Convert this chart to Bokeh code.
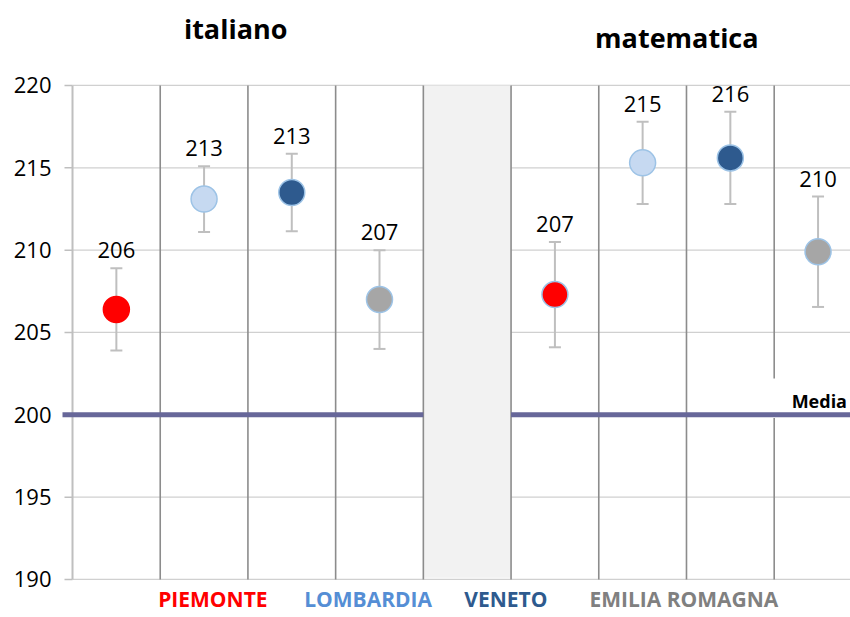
from bokeh.plotting import figure
from bokeh.models import Label, ColumnDataSource
from bokeh.embed import file_html
from bokeh.resources import INLINE

regions = ["PIEMONTE", "LOMBARDIA", "VENETO", "EMILIA ROMAGNA"]
region_colors = ["#ff0000", "#c6d9f1", "#2e5a8e", "#a6a6a6"]
region_text_colors = ["#ff0000", "#558ed5", "#2e5a8e", "#808080"]
outline_ita = ["#ff0000", "#9dc3e6", "#9dc3e6", "#9dc3e6"]
outline_mat = ["#9dc3e6", "#9dc3e6", "#9dc3e6", "#9dc3e6"]
subjects = ["italiano", "matematica"]
ita_mean = [206.4, 213.1, 213.5, 207.0]
ita_err = [2.5, 2.0, 2.35, 3.0]
mat_mean = [207.3, 215.3, 215.6, 209.9]
mat_err = [3.2, 2.5, 2.8, 3.35]
ita_labels = ["206", "213", "213", "207"]
mat_labels = ["207", "215", "216", "210"]
media_value = 200
y_ticks = [190, 195, 200, 205, 210, 215, 220]
y_tick_labels = ["190", "195", "200", "205", "210", "215", "220"]

FONT = "Open Sans"
Y0, Y1 = 190, 220
PX = 1 / 87.7  # one pixel in x data units

p = figure(width=850, height=617, x_range=(-72 * PX, 8.87), y_range=(187.69, 225.16),
           output_backend="svg", toolbar_location=None,
           min_border_left=0, min_border_right=0, min_border_top=0, min_border_bottom=0)
p.outline_line_color = None
p.axis.visible = False
p.grid.visible = False

# horizontal gridlines, y axis line and tick marks
p.segment(x0=[0] * len(y_ticks), x1=[9] * len(y_ticks), y0=y_ticks, y1=y_ticks,
          line_color="#d0d0d0", line_width=1.2)
p.segment(x0=[0], x1=[0], y0=[Y0], y1=[Y1], line_color="#bfbfbf", line_width=2)
p.segment(x0=[-8 * PX] * len(y_ticks), x1=[0] * len(y_ticks), y0=y_ticks, y1=y_ticks,
          line_color="#bfbfbf", line_width=1.5)
tsrc = ColumnDataSource(dict(x=[-21 * PX] * len(y_ticks), y=y_ticks, t=y_tick_labels))
p.text(x="x", y="y", text="t", source=tsrc, text_align="right", text_baseline="middle",
       text_font_size="22px", text_color="#000000", text_font={"value": FONT})

# grey gap band between subjects
p.quad(left=[4], right=[5], bottom=[Y0 + 0.1], top=[Y1], fill_color="#f2f2f2", line_color=None)

# slot separators
sep_x = [1, 2, 3, 4, 5, 6, 7]
p.segment(x0=sep_x, x1=sep_x, y0=[Y0] * len(sep_x), y1=[Y1] * len(sep_x),
          line_color="#8c8c8c", line_width=1.6)
p.segment(x0=[8, 8], x1=[8, 8], y0=[Y0, 202.2], y1=[199.8, Y1],
          line_color="#8c8c8c", line_width=1.6)

# media line
p.segment(x0=[-10 * PX, 5], x1=[4, 9], y0=[media_value, media_value], y1=[media_value, media_value],
          line_color="#676799", line_width=5)
p.add_layout(Label(x=8.83, y=media_value, text="Media", text_align="right", text_baseline="bottom",
                   y_offset=2, text_font=FONT, text_font_style="bold", text_font_size="18px",
                   text_color="#000000"))

def draw(xs, means, errs, labels, outlines):
    up = [m + e for m, e in zip(means, errs)]
    lo = [m - e for m, e in zip(means, errs)]
    p.segment(x0=xs, x1=xs, y0=lo, y1=up, line_color="#bfbfbf", line_width=2)
    p.scatter(x=xs + xs, y=up + lo, marker="dash", size=12, line_color="#bfbfbf", line_width=2)
    p.scatter(x=xs, y=means, size=26, fill_color=region_colors, line_color=outlines, line_width=1.5)
    src = ColumnDataSource(dict(x=xs, y=up, t=labels))
    p.text(x="x", y="y", text="t", source=src, text_align="center", text_baseline="bottom",
           y_offset=-10, text_font_size="22px", text_color="#000000",
           text_font={"value": FONT})

ita_x = [i + 0.5 for i in range(len(regions))]
mat_x = [i + 5.5 for i in range(len(regions))]
draw(ita_x, ita_mean, ita_err, ita_labels, outline_ita)
draw(mat_x, mat_mean, mat_err, mat_labels, outline_mat)

# subject titles
p.add_layout(Label(x=1.86, y=223.46, text=subjects[0], text_align="center", text_baseline="middle",
                   text_font=FONT, text_font_style="bold", text_font_size="27px", text_color="#000000"))
p.add_layout(Label(x=6.89, y=222.9, text=subjects[1], text_align="center", text_baseline="middle",
                   text_font=FONT, text_font_style="bold", text_font_size="27px", text_color="#000000"))

# region legend below
leg_x = [1.6, 3.37, 4.94, 6.97]
for name, col, lx in zip(regions, region_text_colors, leg_x):
    p.add_layout(Label(x=lx, y=188.8, text=name, text_align="center", text_baseline="middle",
                       text_font=FONT, text_font_style="bold", text_font_size="21px", text_color=col))

open("out.html", "w").write(file_html(p, INLINE))
